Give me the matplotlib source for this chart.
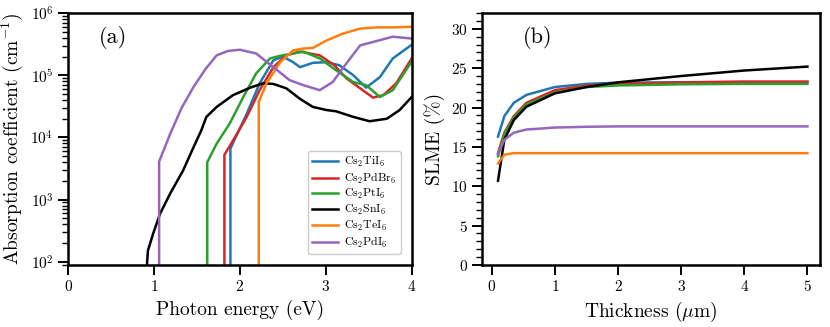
import numpy as np
import matplotlib
matplotlib.use('Agg')
from matplotlib import pyplot as plt
from matplotlib.ticker import MultipleLocator, LogLocator, NullFormatter

plt.rcParams['font.family'] = 'serif'
plt.rcParams['font.serif'] = ['cmr10']
plt.rcParams['mathtext.fontset'] = 'cm'
plt.rcParams['axes.formatter.use_mathtext'] = True

names = [r'Cs$_2$TiI$_6$', r'Cs$_2$PdBr$_6$', r'Cs$_2$PtI$_6$',
         r'Cs$_2$SnI$_6$', r'Cs$_2$TeI$_6$', r'Cs$_2$PdI$_6$']
colors = ['#1f77b4', '#d62728', '#2ca02c', 'black', '#ff7f0e', '#9467bd']

# absorption: photon energy (eV) and log10(alpha / cm^-1)
e_ti = [1.89, 1.89, 2.08, 2.23, 2.39, 2.50, 2.62, 2.70, 2.85, 3.01, 3.16, 3.32, 3.47, 3.63, 3.78, 4.0]
a_ti = [1.0, 3.82, 4.38, 4.87, 5.24, 5.30, 5.21, 5.13, 5.20, 5.21, 5.16, 5.00, 4.80, 4.97, 5.27, 5.49]
e_pdbr = [1.82, 1.82, 1.92, 2.08, 2.23, 2.39, 2.54, 2.70, 2.93, 3.10, 3.24, 3.40, 3.55, 3.67, 3.82, 4.0]
a_pdbr = [1.0, 3.72, 3.95, 4.33, 4.76, 5.13, 5.32, 5.38, 5.32, 5.16, 4.95, 4.79, 4.64, 4.68, 4.87, 5.27]
e_pt = [1.62, 1.62, 1.73, 1.88, 2.04, 2.19, 2.35, 2.46, 2.62, 2.74, 2.93, 3.12, 3.32, 3.47, 3.63, 3.78, 4.0]
a_pt = [1.0, 3.60, 3.90, 4.22, 4.65, 5.03, 5.27, 5.31, 5.35, 5.38, 5.27, 5.08, 4.89, 4.84, 4.65, 4.76, 5.22]
e_sn = [0.92, 0.92, 0.93, 0.99, 1.07, 1.19, 1.34, 1.46, 1.55, 1.61, 1.73, 1.92, 2.12, 2.27, 2.39, 2.54,
        2.70, 2.85, 3.01, 3.12, 3.32, 3.51, 3.71, 3.86, 4.0]
a_sn = [1.0, 1.99, 2.18, 2.45, 2.77, 3.10, 3.47, 3.84, 4.11, 4.33, 4.49, 4.68, 4.80, 4.87, 4.86, 4.79,
        4.62, 4.49, 4.44, 4.42, 4.33, 4.26, 4.30, 4.44, 4.65]
e_te = [2.22, 2.22, 2.31, 2.47, 2.62, 2.74, 2.85, 3.01, 3.20, 3.40, 3.59, 3.78, 4.0]
a_te = [1.0, 4.57, 4.87, 5.21, 5.40, 5.43, 5.44, 5.56, 5.67, 5.75, 5.77, 5.77, 5.78]
e_pdi = [1.06, 1.06, 1.19, 1.32, 1.46, 1.60, 1.73, 1.86, 2.00, 2.19, 2.39, 2.58, 2.74, 2.93, 3.08, 3.24,
         3.40, 3.59, 3.78, 4.0]
a_pdi = [1.0, 3.61, 4.06, 4.47, 4.81, 5.10, 5.32, 5.39, 5.41, 5.35, 5.13, 4.92, 4.84, 4.76, 4.89, 5.19,
         5.48, 5.55, 5.62, 5.59]

energies = [e_ti, e_pdbr, e_pt, e_sn, e_te, e_pdi]
alphas = [a_ti, a_pdbr, a_pt, a_sn, a_te, a_pdi]

# SLME vs thickness (um)
thick = [0.1, 0.2, 0.35, 0.55, 1.0, 1.5, 2.0, 3.0, 4.0, 5.0]
s_ti = [16.3, 18.9, 20.6, 21.6, 22.6, 23.0, 23.15, 23.2, 23.2, 23.2]
s_pdbr = [14.2, 16.8, 18.9, 20.6, 22.2, 22.8, 23.0, 23.2, 23.3, 23.3]
s_pt = [13.8, 16.6, 18.7, 20.4, 21.9, 22.6, 22.8, 22.95, 23.0, 23.0]
s_sn = [10.7, 15.9, 18.4, 20.1, 21.8, 22.6, 23.2, 24.0, 24.7, 25.2]
s_te = [12.9, 14.0, 14.2, 14.2, 14.2, 14.2, 14.2, 14.2, 14.2, 14.2]
s_pdi = [14.1, 15.9, 16.8, 17.2, 17.45, 17.55, 17.6, 17.6, 17.6, 17.6]
slme = [s_ti, s_pdbr, s_pt, s_sn, s_te, s_pdi]

fig = plt.figure(figsize=(8.3, 3.27), dpi=100)
ax1 = fig.add_axes([0.082, 0.190, 0.414, 0.770])
ax2 = fig.add_axes([0.581, 0.190, 0.407, 0.770])

for e, a, c, n in zip(energies, alphas, colors, names):
    ax1.plot(e, 10 ** np.array(a), color=c, lw=1.8, label=n)
ax1.set_yscale('log')
ax1.set_xlim(0, 4)
ax1.set_ylim(89, 1e6)
ax1.xaxis.set_major_locator(MultipleLocator(1))
ax1.yaxis.set_major_locator(LogLocator(base=10, numticks=10))
ax1.yaxis.set_minor_locator(LogLocator(base=10, subs=np.arange(2, 10), numticks=10))
ax1.yaxis.set_minor_formatter(NullFormatter())
ax1.set_xlabel('Photon energy (eV)', fontsize=14)
ax1.set_ylabel(r'Absorption coefficient (cm$^{-1}$)', fontsize=14)
ax1.text(0.09, 0.88, '(a)', transform=ax1.transAxes, fontsize=16)
ax1.legend(loc='lower right', fontsize=8.5, handlelength=2.2, framealpha=1,
           borderpad=0.35, labelspacing=0.15, handletextpad=0.5,
           bbox_to_anchor=(0.985, 0.02))

for s, c, n in zip(slme, colors, names):
    ax2.plot(thick, s, color=c, lw=1.8, label=n)
ax2.set_xlim(-0.15, 5.2)
ax2.set_ylim(0, 32)
ax2.xaxis.set_major_locator(MultipleLocator(1))
ax2.yaxis.set_major_locator(MultipleLocator(5))
ax2.yaxis.set_minor_locator(MultipleLocator(1))
ax2.set_xlabel(r'Thickness ($\mu$m)', fontsize=14)
ax2.set_ylabel('SLME (%)', fontsize=14)
ax2.text(0.12, 0.88, '(b)', transform=ax2.transAxes, fontsize=16)

for ax in (ax1, ax2):
    for sp in ax.spines.values():
        sp.set_linewidth(1.8)
    ax.tick_params(which='major', direction='out', length=7, width=1.4, labelsize=11)
    ax.tick_params(which='minor', direction='out', length=4, width=1.0)

fig.savefig('out.png', dpi=100)
